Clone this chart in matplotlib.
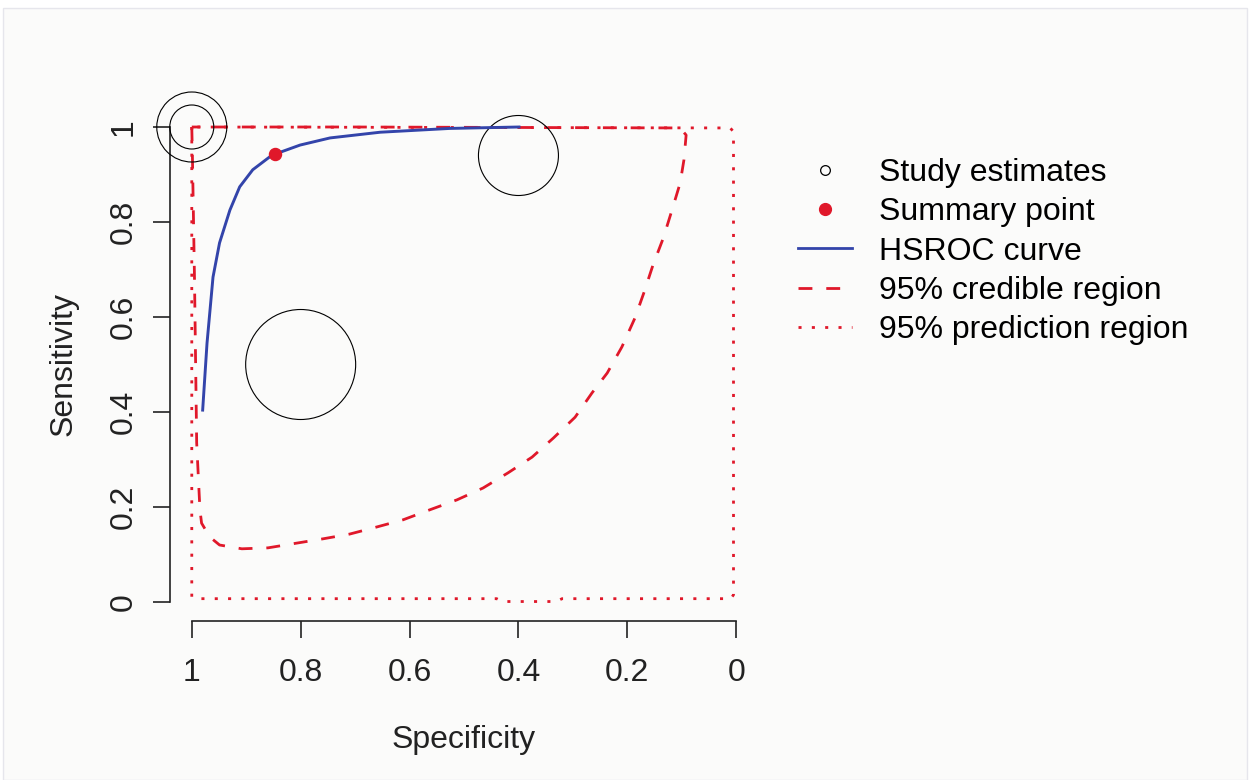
import matplotlib
matplotlib.use("Agg")
import matplotlib.pyplot as plt
from matplotlib.lines import Line2D
from matplotlib.patches import Rectangle

plt.rcParams['font.family'] = ['Liberation Sans', 'DejaVu Sans']

# study estimates (specificity, sensitivity, relative circle size)
study_spec = [1.0, 1.0, 0.4, 0.8]
study_sens = [1.0, 1.0, 0.94, 0.5]
study_size = [35, 22, 40, 55]

# summary point
summ_spec = [0.847]
summ_sens = [0.943]

# HSROC curve
hsroc_spec = [0.98, 0.972, 0.961, 0.949, 0.930, 0.912, 0.888, 0.857, 0.847,
              0.801, 0.746, 0.654, 0.526, 0.399]
hsroc_sens = [0.404, 0.545, 0.684, 0.756, 0.825, 0.874, 0.91, 0.937, 0.943,
              0.962, 0.977, 0.989, 0.997, 1.0]

# 95% credible region
cred_spec = [1.0, 0.999, 0.995, 0.991, 0.985, 0.982, 0.967, 0.949, 0.908, 0.860,
             0.807, 0.759, 0.710, 0.660, 0.612, 0.563, 0.513, 0.465, 0.419, 0.375,
             0.336, 0.296, 0.265, 0.237, 0.210, 0.186, 0.169, 0.153, 0.134, 0.118,
             0.103, 0.096, 0.092, 0.103, 0.4, 0.7, 1.0]
cred_sens = [1.0, 0.95, 0.68, 0.335, 0.194, 0.166, 0.137, 0.12, 0.112, 0.114,
             0.124, 0.133, 0.143, 0.158, 0.173, 0.194, 0.215, 0.240, 0.272, 0.305,
             0.345, 0.389, 0.44, 0.482, 0.537, 0.598, 0.653, 0.709, 0.766, 0.825,
             0.882, 0.931, 0.983, 0.998, 0.999, 1.0, 1.0]

# 95% prediction region
pred_spec = [1.0, 1.0, 0.985, 0.44, 0.43, 0.33, 0.32, 0.01, 0.005, 0.005, 0.011, 1.0]
pred_sens = [1.0, 0.01, 0.007, 0.007, 0.001, 0.001, 0.007, 0.007, 0.015, 0.99, 0.998, 1.0]

ticks = [0, 0.2, 0.4, 0.6, 0.8, 1]
tick_labels = ['0', '0.2', '0.4', '0.6', '0.8', '1']

RED = '#e0182a'
BLUE = '#3344aa'
INK = '#222222'
FS = 23

fig = plt.figure(figsize=(12.5, 7.8), dpi=100)
fig.patch.set_facecolor('white')
fig.patches.append(Rectangle((3 / 1250, 0), 1244 / 1250, 772 / 780,
                             transform=fig.transFigure, facecolor='#fbfbfa',
                             edgecolor='#e6e6ec', lw=1, zorder=-10))

ax = fig.add_axes([170 / 1250, 1 - 621 / 780, 588 / 1250, 513 / 780])
ax.set_facecolor('none')

# study circles, sized in pixels of radius
sizes = [(2 * r * 0.72) ** 2 for r in study_size]
ax.scatter(study_spec, study_sens, s=sizes, facecolors='none',
           edgecolors='black', linewidths=0.8, zorder=3, clip_on=False)

ax.plot(pred_spec, pred_sens, color=RED, lw=2, ls=(0, (1.1, 3.7)), zorder=2)
ax.plot(cred_spec, cred_sens, color=RED, lw=2, ls=(0, (5, 5)), zorder=2)
ax.plot(hsroc_spec, hsroc_sens, color=BLUE, lw=2.1, zorder=4)
ax.scatter(summ_spec, summ_sens, s=75, color=RED, zorder=5)

ax.set_xlim(1.04, -0.04)
ax.set_ylim(-0.04, 1.04)

for side in ['top', 'right']:
    ax.spines[side].set_visible(False)
ax.spines['left'].set_bounds(0, 1)
ax.spines['bottom'].set_bounds(0, 1)
for side in ['left', 'bottom']:
    ax.spines[side].set_linewidth(1.2)
    ax.spines[side].set_color(INK)

ax.set_xticks(ticks)
ax.set_xticklabels(tick_labels)
ax.set_yticks(ticks)
ax.set_yticklabels(tick_labels, rotation=90, va='center')
ax.tick_params(axis='both', direction='out', length=12.3, width=1.2,
               labelsize=FS, colors=INK)
ax.tick_params(axis='x', pad=14)
ax.tick_params(axis='y', pad=10)

ax.set_xlabel('Specificity', fontsize=FS, color=INK, labelpad=27)
ax.set_ylabel('Sensitivity', fontsize=FS, color=INK, labelpad=22)

handles = [
    Line2D([], [], ls='none', marker='o', markersize=7, markerfacecolor='none',
           markeredgecolor='black', markeredgewidth=0.9),
    Line2D([], [], ls='none', marker='o', markersize=8.5, color=RED),
    Line2D([], [], color=BLUE, lw=2),
    Line2D([], [], color=RED, lw=2, ls=(0, (5, 5))),
    Line2D([], [], color=RED, lw=2, ls=(0, (1.1, 3.7))),
]
labels = ['Study estimates', 'Summary point', 'HSROC curve',
          '95% credible region', '95% prediction region']
fig.legend(handles, labels, loc='upper left',
           bbox_to_anchor=(798 / 1250, 1 - 158 / 780), frameon=False,
           fontsize=FS, handlelength=1.7, handletextpad=0.85,
           labelspacing=0.29, borderpad=0, borderaxespad=0)

fig.savefig('out.png', dpi=100, facecolor=fig.get_facecolor())
